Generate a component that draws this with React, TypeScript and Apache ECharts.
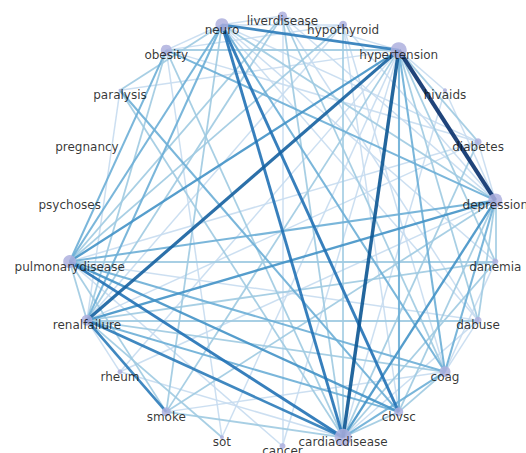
import React, { useEffect, useRef } from "react";
import * as echarts from "echarts";

// nodes placed on a circle, alphabetical order, counter-clockwise from bottom
const nodeNames = [
  "cancer", "cardiacdisease", "cbvsc", "coag", "dabuse", "danemia", "depression",
  "diabetes", "hivaids", "hypertension", "hypothyroid", "liverdisease", "neuro",
  "obesity", "paralysis", "pregnancy", "psychoses", "pulmonarydisease",
  "renalfailure", "rheum", "smoke", "sot",
];
const nodeSizes = [6, 17, 9, 11, 7, 6, 14, 7, 4, 16, 8, 9, 13, 11, 3, 0.5, 0.5, 13, 11, 5, 9, 4];

// [source, target, weight]
const edgeList: [string, string, number][] = [
  ["hypertension", "depression", 10],
  ["hypertension", "cardiacdisease", 8],
  ["hypertension", "renalfailure", 7],
  ["neuro", "cardiacdisease", 6],
  ["neuro", "cbvsc", 6],
  ["pulmonarydisease", "cardiacdisease", 6],
  ["hypertension", "neuro", 5],
  ["renalfailure", "cardiacdisease", 5],
  ["renalfailure", "smoke", 5],
  ["renalfailure", "depression", 4],
  ["cardiacdisease", "depression", 4],
  ["pulmonarydisease", "cbvsc", 4],
  ["hypertension", "pulmonarydisease", 4],
  ["pulmonarydisease", "smoke", 2],
  ["neuro", "coag", 3],
  ["neuro", "renalfailure", 3],
  ["neuro", "pulmonarydisease", 3],
  ["coag", "depression", 3],
  ["hypertension", "coag", 3],
  ["hypertension", "cbvsc", 3],
  ["cardiacdisease", "coag", 3],
  ["cardiacdisease", "cbvsc", 2],
  ["paralysis", "cbvsc", 3],
  ["obesity", "depression", 3],
  ["obesity", "cardiacdisease", 2],
  ["obesity", "pulmonarydisease", 3],
  ["obesity", "renalfailure", 2],
  ["obesity", "hypertension", 2],
  ["pulmonarydisease", "depression", 3],
  ["pulmonarydisease", "coag", 3],
  ["renalfailure", "cbvsc", 3],
  ["renalfailure", "coag", 2],
  ["renalfailure", "dabuse", 2],
  ["pulmonarydisease", "danemia", 2],
  ["pulmonarydisease", "dabuse", 1],
  ["pulmonarydisease", "renalfailure", 2],
  ["pulmonarydisease", "liverdisease", 2],
  ["pulmonarydisease", "hypothyroid", 2],
  ["renalfailure", "liverdisease", 2],
  ["renalfailure", "hypothyroid", 1],
  ["smoke", "hypertension", 2],
  ["smoke", "depression", 2],
  ["smoke", "neuro", 2],
  ["smoke", "cardiacdisease", 2],
  ["sot", "renalfailure", 2],
  ["sot", "obesity", 1],
  ["sot", "hypertension", 1],
  ["rheum", "renalfailure", 1],
  ["rheum", "hypertension", 1],
  ["rheum", "cardiacdisease", 1],
  ["rheum", "depression", 1],
  ["cancer", "pulmonarydisease", 1],
  ["cancer", "hypertension", 1],
  ["cancer", "liverdisease", 1],
  ["liverdisease", "cardiacdisease", 2],
  ["liverdisease", "depression", 1],
  ["liverdisease", "coag", 2],
  ["liverdisease", "dabuse", 1],
  ["liverdisease", "neuro", 1],
  ["liverdisease", "hypertension", 1],
  ["hypothyroid", "cardiacdisease", 2],
  ["hypothyroid", "depression", 1],
  ["hypothyroid", "coag", 1],
  ["hypothyroid", "obesity", 1],
  ["hypothyroid", "neuro", 1],
  ["hypothyroid", "cbvsc", 1],
  ["neuro", "depression", 2],
  ["neuro", "obesity", 1],
  ["neuro", "paralysis", 2],
  ["neuro", "dabuse", 1],
  ["diabetes", "hypertension", 2],
  ["diabetes", "depression", 1],
  ["diabetes", "cardiacdisease", 2],
  ["diabetes", "pulmonarydisease", 1],
  ["diabetes", "renalfailure", 1],
  ["diabetes", "obesity", 1],
  ["diabetes", "neuro", 1],
  ["hivaids", "hypertension", 1],
  ["hivaids", "cardiacdisease", 1],
  ["hivaids", "depression", 1],
  ["danemia", "depression", 2],
  ["danemia", "cardiacdisease", 2],
  ["danemia", "hypertension", 2],
  ["danemia", "renalfailure", 2],
  ["danemia", "coag", 1],
  ["danemia", "neuro", 1],
  ["dabuse", "depression", 2],
  ["dabuse", "hypertension", 2],
  ["dabuse", "cardiacdisease", 1],
  ["dabuse", "coag", 1],
  ["cbvsc", "depression", 2],
  ["cbvsc", "coag", 2],
  ["coag", "smoke", 1],
  ["paralysis", "cardiacdisease", 2],
  ["paralysis", "hypertension", 1],
  ["paralysis", "renalfailure", 1],
];

const colorStops = ["#c6dbef", "#9ecae1", "#6baed6", "#4292c6", "#2b7bb9", "#2171b5", "#1561a0", "#0b5592", "#08457e", "#08306b"];

function edgeColor(w: number) {
  return colorStops[Math.max(0, Math.min(colorStops.length - 1, Math.round(w) - 1))];
}

export default function App() {
  const ref = useRef<HTMLDivElement>(null);
  useEffect(() => {
    if (!ref.current) return;
    const chart = echarts.init(ref.current, undefined, { renderer: "svg" });
    const cx = 282.5, cy = 231, R = 215;
    const n = nodeNames.length;
    const pos = nodeNames.map((_, i) => {
      const a = (i * 2 * Math.PI) / n;
      return [cx + R * Math.sin(a), cy + R * Math.cos(a)];
    });
    const xs = pos.map((p) => p[0]);
    const ys = pos.map((p) => p[1]);
    const minX = Math.min(...xs), maxX = Math.max(...xs);
    const minY = Math.min(...ys), maxY = Math.max(...ys);
    const nodes = nodeNames.map((name, i) => ({
      name,
      x: pos[i][0],
      y: pos[i][1],
      symbolSize: nodeSizes[i],
    }));
    const links = [...edgeList]
      .sort((a, b) => a[2] - b[2])
      .map(([s, t, w]) => ({
        source: s,
        target: t,
        value: w,
        lineStyle: {
          color: edgeColor(w),
          width: 1.5 + (w - 1) * 0.28,
          opacity: 0.9,
        },
      }));
    chart.setOption({
      animation: false,
      series: [
        {
          type: "graph",
          layout: "none",
          left: minX,
          top: minY,
          width: maxX - minX,
          height: maxY - minY,
          roam: false,
          symbol: "circle",
          itemStyle: { color: "#aeb0de", opacity: 0.85 },
          label: {
            show: true,
            position: "inside",
            offset: [0, 5],
            color: "#111",
            fontSize: 12,
            fontFamily: "DejaVu Sans",
          },
          lineStyle: { curveness: 0 },
          emphasis: { disabled: true },
          data: nodes,
          links,
        },
      ],
    });
    return () => chart.dispose();
  }, []);
  return (
    <div
      ref={ref}
      style={{ position: "fixed", left: 0, top: 0, width: 526, height: 453, background: "#fff" }}
    />
  );
}
